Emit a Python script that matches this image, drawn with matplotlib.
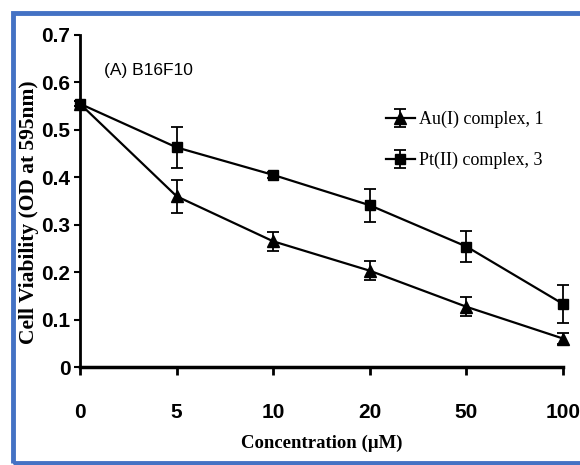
import matplotlib.pyplot as plt
from matplotlib.patches import Rectangle

conc_labels = ["0", "5", "10", "20", "50", "100"]
au_vals = [0.555, 0.36, 0.265, 0.203, 0.127, 0.06]
au_err = [0.005, 0.035, 0.02, 0.02, 0.02, 0.012]
pt_vals = [0.555, 0.463, 0.405, 0.341, 0.254, 0.133]
pt_err = [0.005, 0.043, 0.007, 0.035, 0.032, 0.04]
y_ticks = [0, 0.1, 0.2, 0.3, 0.4, 0.5, 0.6, 0.7]
y_tick_labels = ["0", "0.1", "0.2", "0.3", "0.4", "0.5", "0.6", "0.7"]

sans = ["Liberation Sans", "DejaVu Sans"]
serif = ["Liberation Serif", "DejaVu Serif"]

fig = plt.figure(figsize=(5.8, 4.65), dpi=100)
# blue frame around the figure
fig.patches.append(Rectangle((13 / 580, 2 / 465), 1.0, 450 / 465, transform=fig.transFigure,
                             fill=False, edgecolor="#4472c4", linewidth=3.5))

ax = fig.add_axes([80 / 580, 98 / 465, 483 / 580, 332 / 465])
x = list(range(len(conc_labels)))

ax.errorbar(x, au_vals, yerr=au_err, color="black", lw=1.6, marker="^", ms=8,
            capsize=4, elinewidth=1.3, capthick=1.3, label="Au(I) complex, 1", clip_on=False)
ax.errorbar(x, pt_vals, yerr=pt_err, color="black", lw=1.6, marker="s", ms=7,
            capsize=4, elinewidth=1.3, capthick=1.3, label="Pt(II) complex, 3", clip_on=False)

ax.set_xlim(0, 5)
ax.set_ylim(0, 0.7)
ax.set_xticks(x)
ax.set_xticklabels(conc_labels)
ax.set_yticks(y_ticks)
ax.set_yticklabels(y_tick_labels)
for lab in ax.get_xticklabels() + ax.get_yticklabels():
    lab.set_family(sans)
    lab.set_fontweight("bold")
    lab.set_fontsize(15)

ax.spines["top"].set_visible(False)
ax.spines["right"].set_visible(False)
ax.spines["left"].set_linewidth(2)
ax.spines["bottom"].set_linewidth(2.5)
ax.tick_params(axis="x", direction="out", length=6, width=2, pad=20)
ax.tick_params(axis="y", direction="out", length=4, width=1.5, pad=3)

ax.set_xlabel("Concentration (µM)", family=serif, fontweight="bold", fontsize=13.5)
ax.xaxis.set_label_coords(0.5, -0.205)
ax.set_ylabel("Cell Viability (OD at 595nm)", family=serif, fontweight="bold", fontsize=15.5)
ax.yaxis.set_label_coords(-0.084, 0.465)

ax.text(0.05, 0.88, "(A) B16F10", transform=ax.transAxes, family=sans, fontsize=12.5)

leg = ax.legend(loc="upper left", bbox_to_anchor=(0.6, 0.82), frameon=False,
                prop={"family": serif, "size": 13}, handlelength=1.6, handletextpad=0.2,
                labelspacing=1.3)

fig.savefig("out.png", dpi=100)
